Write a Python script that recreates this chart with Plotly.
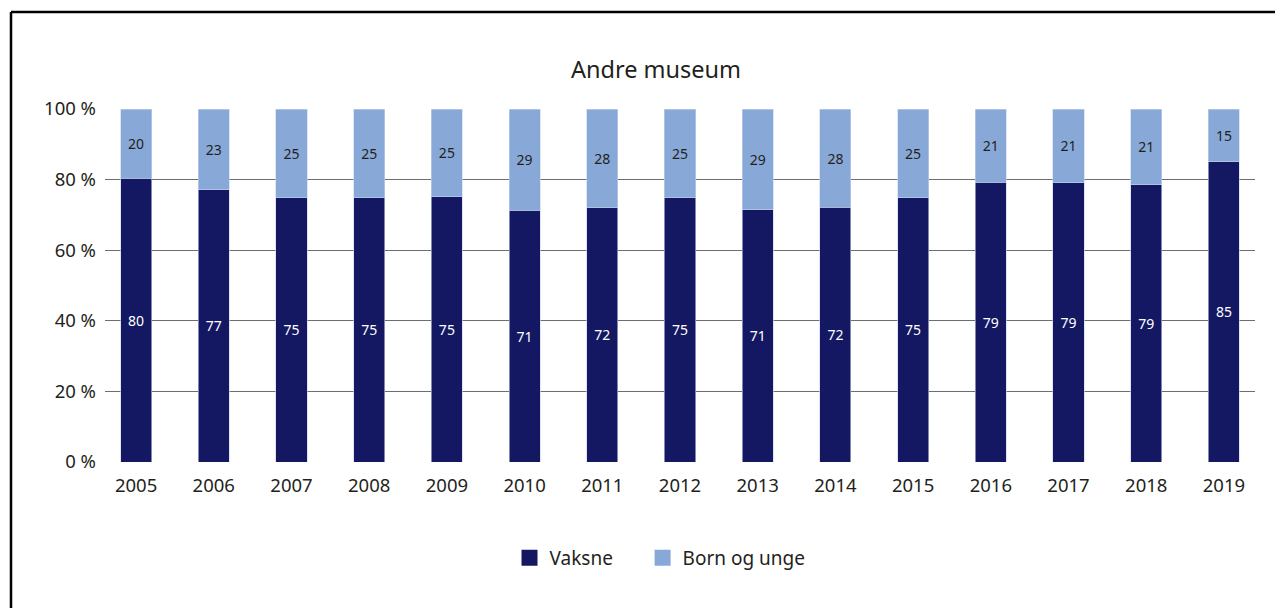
import plotly.graph_objects as go

years = ["2005", "2006", "2007", "2008", "2009", "2010", "2011", "2012",
         "2013", "2014", "2015", "2016", "2017", "2018", "2019"]
vaksne = [80.4, 77.1, 74.9, 74.9, 75.1, 71.3, 72.0, 74.8, 71.4, 72.2, 74.8, 79.2, 79.1, 78.6, 85.1]
born_og_unge = [19.6, 22.9, 25.1, 25.1, 24.9, 28.7, 28.0, 25.2, 28.6, 27.8, 25.2, 20.8, 20.9, 21.4, 14.9]
y_ticks = [0, 20, 40, 60, 80, 100]
y_tick_labels = ["0 %", "20 %", "40 %", "60 %", "80 %", "100 %"]

DARK = "#141862"
LIGHT = "#88a9d7"
TXT = "#231f20"
FONT = "Noto Sans"
PAD = "\u00a0" * 5

fig = go.Figure()
fig.add_trace(go.Bar(
    x=years, y=vaksne, name="Vaksne", marker=dict(color=DARK, line=dict(color="#c8d4ec", width=0.6)),
    texttemplate="%{y:.0f}", textposition="inside", insidetextanchor="middle",
    textfont=dict(color="white", size=14, family=FONT), showlegend=False, hoverinfo="x+y"))
fig.add_trace(go.Bar(
    x=years, y=born_og_unge, name="Born og unge", marker=dict(color=LIGHT, line=dict(color="#c8d4ec", width=0.6)),
    texttemplate="%{y:.0f}", textposition="inside", insidetextanchor="middle",
    textfont=dict(color=TXT, size=14, family=FONT), showlegend=False, hoverinfo="x+y"))

# legend entries
fig.add_trace(go.Scatter(x=[None], y=[None], mode="markers", name="Vaksne" + PAD,
                         marker=dict(symbol="square", size=16, color=DARK)))
fig.add_trace(go.Scatter(x=[None], y=[None], mode="markers", name="Born og unge",
                         marker=dict(symbol="square", size=16, color=LIGHT)))

fig.update_layout(
    width=1275, height=608,
    barmode="stack", bargap=0.6,
    paper_bgcolor="white", plot_bgcolor="white",
    font=dict(family=FONT, color=TXT, size=18),
    margin=dict(l=105, r=20, t=109, b=146),
    title=dict(text="Andre museum", x=656 / 1275, xref="container", xanchor="center",
               y=1 - 70 / 608, yref="container", yanchor="middle",
               font=dict(size=23.5, color=TXT, family=FONT)),
    legend=dict(orientation="h", x=(660 - 105) / 1150, y=-0.272, xanchor="center", yanchor="middle",
                font=dict(size=19, color=TXT, family=FONT), itemsizing="trace",
                traceorder="normal", tracegroupgap=0, itemwidth=30),
    xaxis=dict(type="category", range=[-0.4, 14.4], showgrid=False, showline=False,
               zeroline=False, ticks="", tickfont=dict(size=18.5, color=TXT),
               ticklabelstandoff=10, fixedrange=True),
    yaxis=dict(range=[0, 100], tickmode="array", tickvals=y_ticks, ticktext=y_tick_labels,
               showgrid=True, gridcolor="#6e6e6e", gridwidth=1, zeroline=False, showline=False,
               ticks="", tickfont=dict(size=18.5, color=TXT), ticklabelstandoff=8,
               fixedrange=True),
    shapes=[
        dict(type="line", xref="paper", yref="paper",
             x0=(11 - 105) / 1150, x1=(1290 - 105) / 1150,
             y0=(462 - 12) / 353, y1=(462 - 12) / 353,
             line=dict(color="black", width=2.5)),
        dict(type="line", xref="paper", yref="paper",
             x0=(11 - 105) / 1150, x1=(11 - 105) / 1150,
             y0=(462 - 12) / 353, y1=(462 - 620) / 353,
             line=dict(color="black", width=2.5)),
    ],
)

fig.write_html("out.html", config={"displayModeBar": False},
               post_script="document.body.style.margin='0';document.body.style.padding='0';"
                           "document.body.style.overflow='hidden';")
